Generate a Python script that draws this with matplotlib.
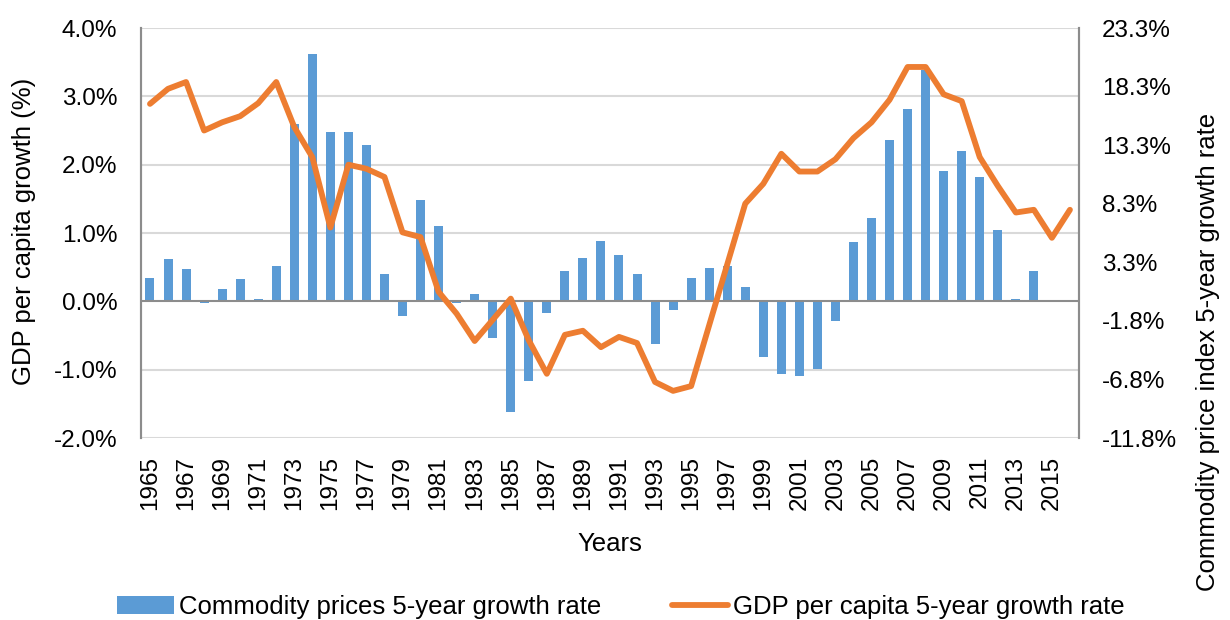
import numpy as np
import matplotlib
matplotlib.use("Agg")
import matplotlib.pyplot as plt
from matplotlib.patches import Patch
from matplotlib.lines import Line2D

plt.rcParams['font.family'] = ['Liberation Sans', 'DejaVu Sans']

# --- Data ---
years = list(range(1965, 2017))

# commodity price index, 5-year growth rate (%), right axis
commodity = [2.0, 3.6, 2.7, -0.2, 1.0, 1.9, 0.2, 3.0, 15.1, 21.1,
             14.4, 14.4, 13.3, 2.3, -1.3, 8.6, 6.4, -0.2, 0.6, -3.2,
             -9.5, -6.8, -1.0, 2.6, 3.7, 5.1, 3.9, 2.3, -3.7, -0.8,
             2.0, 2.8, 3.0, 1.2, -4.8, -6.2, -6.4, -5.8, -1.7, 5.0,
             7.1, 13.7, 16.4, 19.7, 11.1, 12.8, 10.6, 6.1, 0.2, 2.6,
             np.nan, np.nan]

# GDP per capita, 5-year growth rate (%), left axis
gdp = [2.89, 3.11, 3.21, 2.50, 2.62, 2.71, 2.90, 3.21, 2.55, 2.11,
       1.08, 2.00, 1.94, 1.82, 1.01, 0.94, 0.14, -0.18, -0.58, -0.27,
       0.04, -0.57, -1.06, -0.49, -0.43, -0.67, -0.52, -0.61, -1.18, -1.31,
       -1.24, -0.35, 0.54, 1.43, 1.72, 2.16, 1.90, 1.90, 2.08, 2.39,
       2.62, 2.95, 3.43, 3.43, 3.03, 2.93, 2.11, 1.69, 1.30, 1.34,
       0.93, 1.34]

left_ticks = [-2, -1, 0, 1, 2, 3, 4]
right_ticks = [-11.7, -6.7, -1.7, 3.3, 8.3, 13.3, 18.3, 23.3]
right_labels = ['-11.8%', '-6.8%', '-1.8%', '3.3%', '8.3%', '13.3%', '18.3%', '23.3%']

BLUE = '#5B9BD5'
ORANGE = '#ED7D31'
GRID = '#D9D9D9'
AXIS = '#8C8C8C'
FS = 17.5      # tick labels
FS_T = 18.5    # axis titles and legend

fig = plt.figure(figsize=(12.3, 6.2), dpi=100)
ax = fig.add_axes([0.1146, 0.2935, 0.7626, 0.6613])
ax2 = ax.twinx()

x = np.arange(len(years))

# bars on the secondary axis, line on the primary one (drawn on top)
ax2.bar(x, commodity, width=0.5, color=BLUE, zorder=2)
for v in left_ticks:
    if v != 0:
        ax2.plot([0, 1], [v, v], transform=ax.get_yaxis_transform(),
                 color=GRID, lw=1.5, zorder=1)
ax.set_zorder(ax2.get_zorder() + 1)
ax.patch.set_visible(False)

ax.axhline(0, color=AXIS, lw=1.5, zorder=2)
ax.plot(x, gdp, color=ORANGE, lw=4.2, solid_joinstyle='round',
        solid_capstyle='round', zorder=3)

ax.set_xlim(-0.5, len(years) - 0.5)
ax.set_ylim(-2, 4)
ax2.set_ylim(-11.7, 23.3)

ax.set_yticks(left_ticks)
ax.set_yticklabels([f'{v:.1f}%' for v in left_ticks], fontsize=FS)
ax2.set_yticks(right_ticks)
ax2.set_yticklabels(right_labels, fontsize=FS)

ax.set_xticks(x[::2])
ax.set_xticklabels([str(y) for y in years[::2]], rotation=90, fontsize=FS)

for a in (ax, ax2):
    a.tick_params(length=0)
    a.spines['top'].set_visible(False)
    a.spines['bottom'].set_visible(False)
    a.spines['left'].set_color(AXIS)
    a.spines['right'].set_color(AXIS)
    a.spines['left'].set_linewidth(1.5)
    a.spines['right'].set_linewidth(1.5)
ax.tick_params(axis='y', pad=17)
ax2.tick_params(axis='y', pad=16.5)
ax.tick_params(axis='x', pad=13)

ax.set_xlabel('Years', fontsize=FS_T)
ax.xaxis.set_label_coords(0.5, -0.228)
ax.set_ylabel('GDP per capita growth (%)', fontsize=FS_T)
ax.yaxis.set_label_coords(-0.112, 0.505)
ax2.set_ylabel('Commodity price index 5-year growth rate', fontsize=FS_T)
ax2.yaxis.set_label_coords(1.125, 0.21)

handles = [Patch(facecolor=BLUE), Line2D([0], [0], color=ORANGE, lw=4.2, solid_capstyle='round')]
fig.legend(handles, ['Commodity prices 5-year growth rate', 'GDP per capita 5-year growth rate'],
           loc='center', bbox_to_anchor=(0.505, 0.021), ncol=2, frameon=False,
           fontsize=FS_T, columnspacing=2.75, handlelength=2.2, handletextpad=0.2)

fig.savefig('out.png', dpi=100)
